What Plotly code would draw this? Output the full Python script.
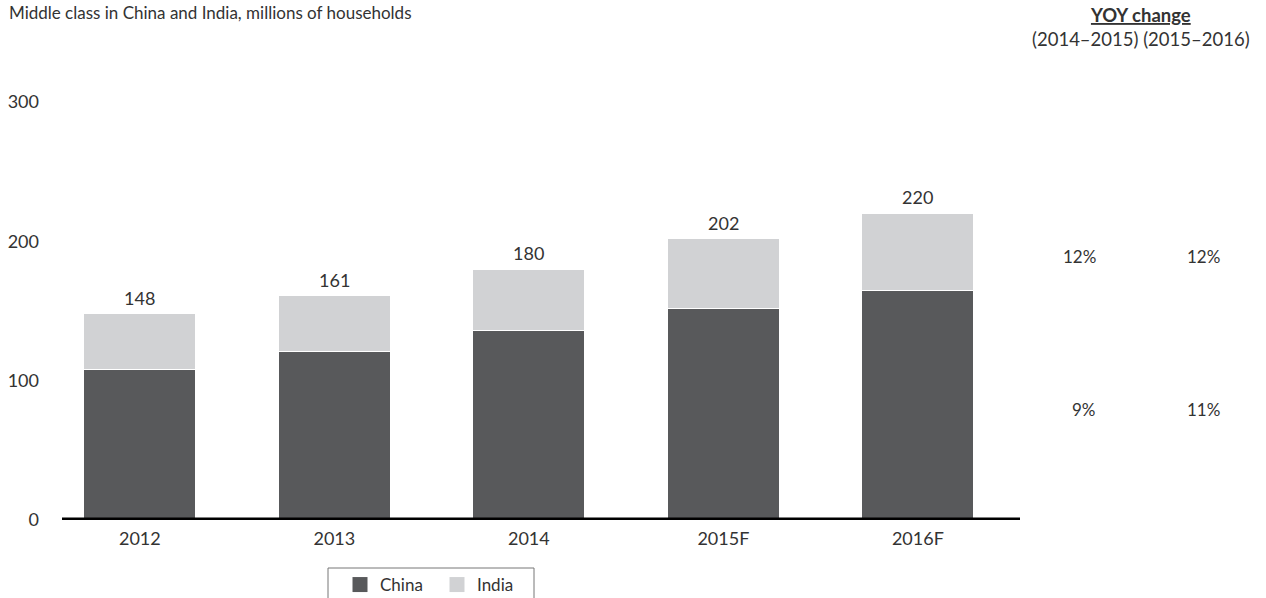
import plotly.graph_objects as go

categories = ["2012", "2013", "2014", "2015F", "2016F"]
china = [108, 121, 136, 152, 165]
totals = [148, 161, 180, 202, 220]
india = [t - c for t, c in zip(totals, china)]
total_labels = ["148", "161", "180", "202", "220"]
yoy_header = ["(2014–2015)", "(2015–2016)"]
yoy_row_top = ["12%", "12%"]
yoy_row_bottom = ["9%", "11%"]

W, H = 1266, 598
L, R, T, B = 62, 1020, 102, 520

def xp(px):
    return (px - L) / (R - L)

def yp(py):
    return (B - py) / (B - T)

FONT = "Lato, 'Open Sans', sans-serif"
TXT = "#333333"
C_CHINA = "#58595b"
C_INDIA = "#d1d2d4"

fig = go.Figure()
fig.add_trace(go.Bar(x=categories, y=china, name="China", showlegend=False,
                     marker=dict(color=C_CHINA, line=dict(color="white", width=1))))
fig.add_trace(go.Bar(x=categories, y=india, name="India", showlegend=False,
                     marker=dict(color=C_INDIA, line=dict(color="white", width=1))))
# legend-only entries with larger square swatches
for nm, col in [("China", C_CHINA), ("India", C_INDIA)]:
    fig.add_trace(go.Scatter(x=[None], y=[None], mode="markers", name=nm,
                             marker=dict(symbol="square", size=15, color=col)))

annotations = []
for i, (t, lab) in enumerate(zip(totals, total_labels)):
    annotations.append(dict(x=i, y=t, xref="x", yref="y", text=lab, showarrow=False,
                            yanchor="bottom", yshift=3, font=dict(size=18, color=TXT, family=FONT)))

annotations.append(dict(x=xp(7), y=yp(13), xref="paper", yref="paper", xanchor="left", yanchor="middle",
                        text="Middle class in China and India, millions of households", showarrow=False,
                        font=dict(size=17, color=TXT, family=FONT)))
annotations.append(dict(x=xp(1141), y=yp(2), xref="paper", yref="paper", xanchor="center", yanchor="top",
                        text="<b><u>YOY change</u></b><br>" + " ".join(yoy_header), showarrow=False,
                        font=dict(size=18.5, color=TXT, family=FONT)))
for val, px in zip(yoy_row_top, [1098, 1222]):
    annotations.append(dict(x=xp(px), y=yp(256), xref="paper", yref="paper", xanchor="right", yanchor="middle",
                            text=val, showarrow=False, font=dict(size=17, color=TXT, family=FONT)))
for val, px in zip(yoy_row_bottom, [1098, 1222]):
    annotations.append(dict(x=xp(px), y=yp(409), xref="paper", yref="paper", xanchor="right", yanchor="middle",
                            text=val, showarrow=False, font=dict(size=17, color=TXT, family=FONT)))

fig.update_layout(
    width=W, height=H,
    barmode="stack", bargap=0.424,
    margin=dict(l=L, r=W - R, t=T, b=H - B, pad=0, autoexpand=False),
    paper_bgcolor="white", plot_bgcolor="white",
    font=dict(family=FONT, color=TXT, size=17),
    showlegend=True,
    legend=dict(orientation="h", x=xp(340), y=yp(567), xanchor="left", yanchor="top",
                borderwidth=0, font=dict(size=17, color=TXT, family=FONT),
                itemwidth=30, entrywidth=52, traceorder="normal", bgcolor="rgba(0,0,0,0)"),
    annotations=annotations,
    xaxis=dict(range=[-0.4, 4.525], showgrid=False, zeroline=False, showline=False,
               tickfont=dict(size=18, color=TXT, family=FONT), ticks="", ticklabelstandoff=6),
    yaxis=dict(range=[0, 300], tickvals=[0, 100, 200, 300], showgrid=False, zeroline=False,
               showline=False, tickfont=dict(size=18, color=TXT, family=FONT), ticks="",
               ticklabelstandoff=22),
    shapes=[
        dict(type="line", xref="paper", yref="y", x0=0, x1=1, y0=0, y1=0,
             line=dict(color="black", width=5)),
        dict(type="rect", xref="paper", yref="paper", x0=xp(328), x1=xp(534), y0=yp(568), y1=yp(610),
             line=dict(color="#777777", width=1), fillcolor="rgba(0,0,0,0)"),
    ],
)

fig.write_html("out.html", config={"displayModeBar": False},
               post_script="document.body.style.margin='0';document.body.style.overflow='hidden';")
